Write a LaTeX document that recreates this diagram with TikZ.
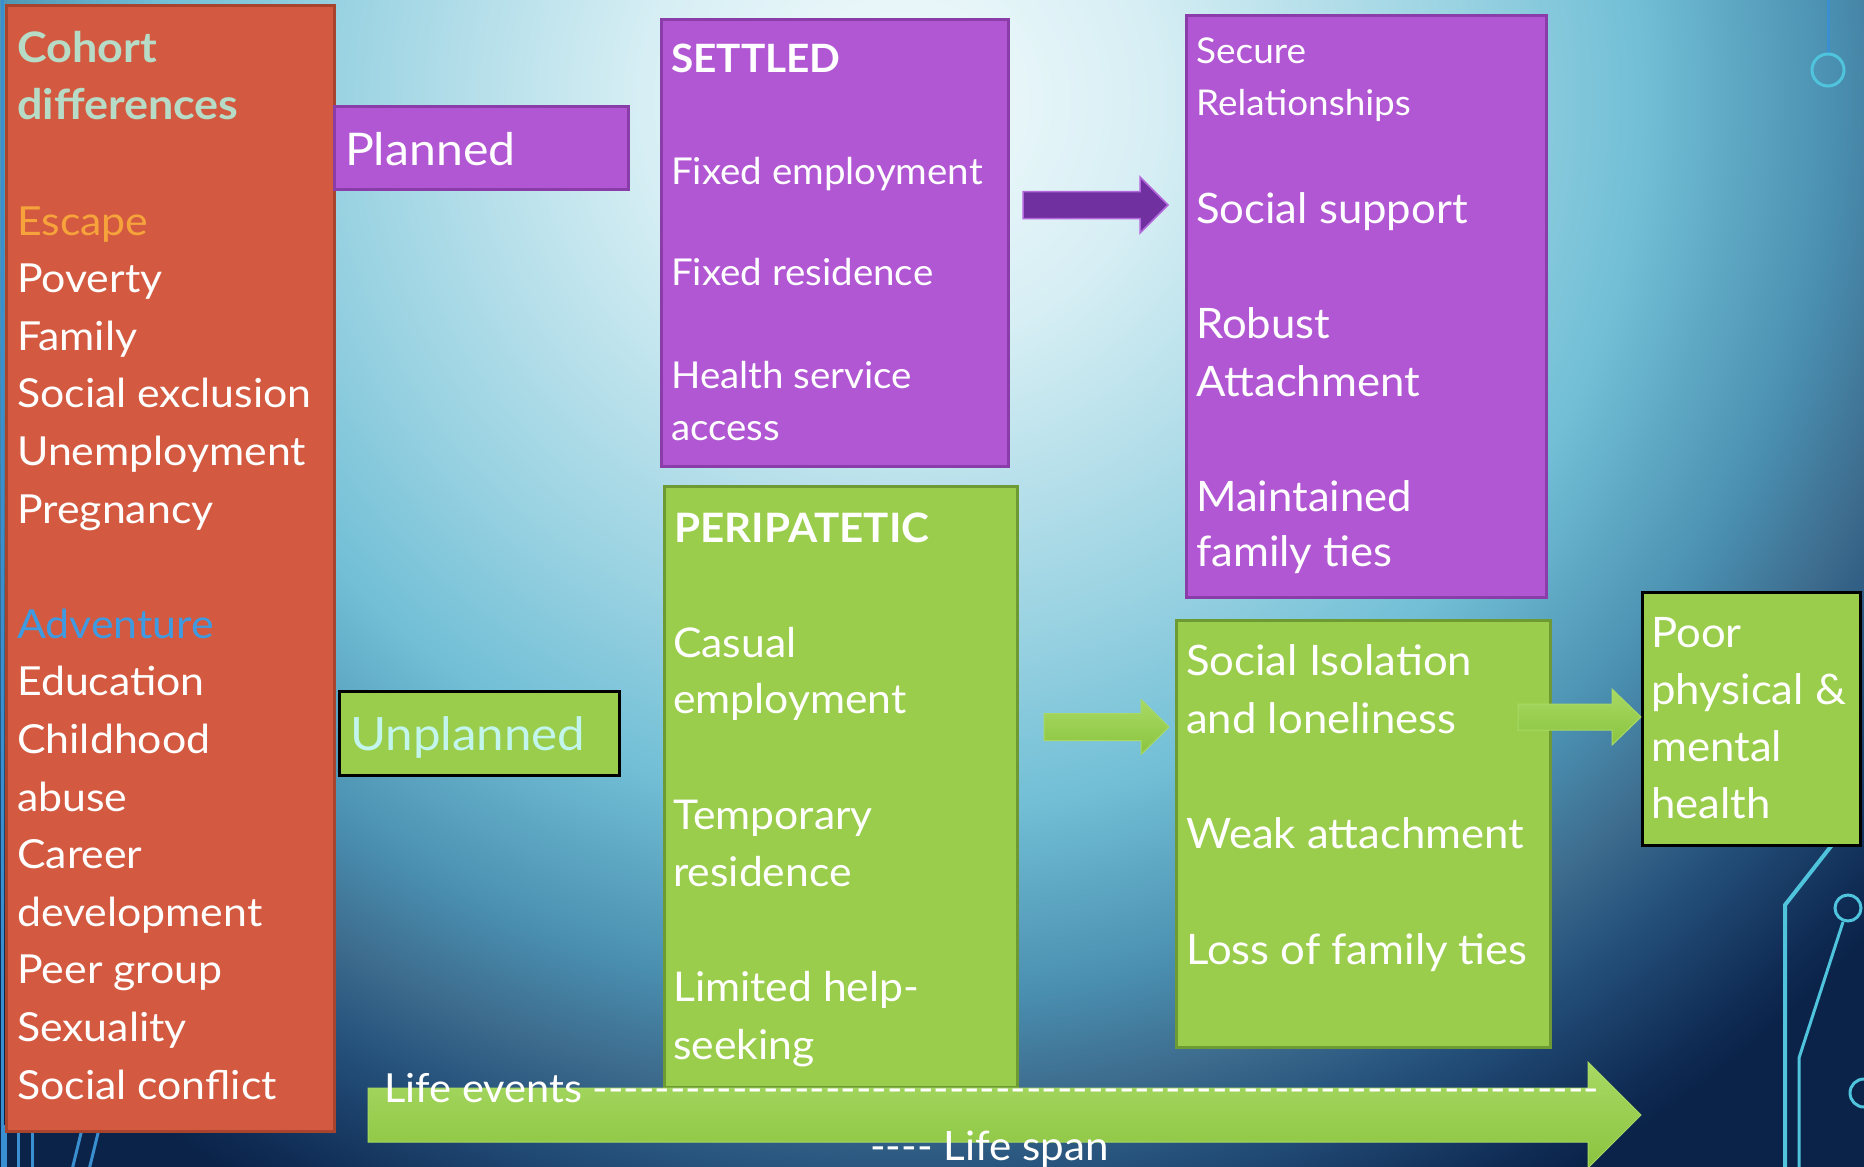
\documentclass[tikz,border=0pt]{standalone}
\usepackage{fontspec}
\setmainfont{Lato}[FakeStretch=1.07]
\newfontfamily\boxfont{Lato}[FakeStretch=1.04]
\usetikzlibrary{calc}

\definecolor{cohortred}{HTML}{D35A40}
\definecolor{cohortedge}{HTML}{A8432E}
\definecolor{settledpurple}{HTML}{B157D3}
\definecolor{settlededge}{HTML}{8A3DA8}
\definecolor{arrowpurple}{HTML}{7030A0}
\definecolor{arrowrim}{HTML}{B466DC}
\definecolor{leafgreen}{HTML}{9BCD4C}
\definecolor{leafedge}{HTML}{6E9A33}
\definecolor{leaflight}{HTML}{A8D964}
\definecolor{leafdark}{HTML}{8BC43F}
\definecolor{mint}{HTML}{B6DCC8}
\definecolor{escorange}{HTML}{F6A33B}
\definecolor{advblue}{HTML}{3E9BE2}
\definecolor{paleaqua}{HTML}{C2F5EC}
\definecolor{circuit}{HTML}{4FC4DC}
\definecolor{circuitblue}{HTML}{3A8FD0}
% background glow, light top centre to dark navy corners
\definecolor{bg0}{HTML}{F4FBFC}
\definecolor{bg1}{HTML}{D6EEF4}
\definecolor{bg2}{HTML}{9BD3E2}
\definecolor{bg3}{HTML}{72BFD6}
\definecolor{bg4}{HTML}{4A8FB0}
\definecolor{bg5}{HTML}{3D6C8E}
\definecolor{bg6}{HTML}{24507A}
\definecolor{bg7}{HTML}{0F2B54}
\definecolor{bg8}{HTML}{0B2349}
% 25bp is the edge of the shaded path
\pgfdeclareradialshading{bgglow}{\pgfpoint{0bp}{0bp}}{color(0bp)=(bg0); color(5bp)=(bg1);
  color(10.75bp)=(bg2); color(14.25bp)=(bg3); color(18bp)=(bg4); color(20bp)=(bg5);
  color(21.75bp)=(bg6); color(24.25bp)=(bg7); color(25bp)=(bg8); color(50bp)=(bg8)}

\newcommand\setsz[2]{\fontsize{#1}{#2}\selectfont}
% block arrow: [style]{from}{tip}{half shaft}{half head}{head length}
\newcommand\fatarrow[6][]{%
  \path[#1] ($(#2)+(0,-#4)$) -- ($(#3)+(-#6,-#4)$) -- ($(#3)+(-#6,-#5)$)
    -- (#3) -- ($(#3)+(-#6,#5)$) -- ($(#3)+(-#6,#4)$) -- ($(#2)+(0,#4)$) -- cycle;}

\tikzset{
  panel/.style={line width=3pt, inner sep=0pt, anchor=north west},
  cohortbox/.style={panel, fill=cohortred, draw=cohortedge},
  settledbox/.style={panel, fill=settledpurple, draw=settlededge},
  driftbox/.style={panel, fill=leafgreen, draw=leafedge},
  outcomebox/.style={panel, fill=leafgreen, draw=black},
  % multi-line texts sit on the baseline of their last line
  itemtext/.style={text=white, inner sep=0pt, anchor=base west, align=left},
  greenarrow/.style={top color=leaflight, bottom color=leafdark, draw=leaflight, line width=1pt},
  wire/.style={circuit, line width=3pt},
}

\begin{document}
\begin{tikzpicture}[x=1pt, y=-1pt]
  \useasboundingbox (0,0) rectangle (1864,1167);
  \begin{scope}
    \clip (0,0) rectangle (1864,1167);
    \shade[shading=bgglow] (-400,-1150) rectangle (2200,1350);
    % circuit traces
    \draw[wire, circuitblue] (1828,0) -- (1828,53);
    \draw[wire] (1828,70) circle[radius=16];
    \draw[wire, line width=4pt] (1832,845) -- (1785,905) -- (1785,1170);
    \draw[wire] (1848,908) circle[radius=13];
    \draw[wire] (1843,922) -- (1799,1058) -- (1799,1170);
    \draw[wire] (1864,1093) circle[radius=14];
    \draw[wire, circuitblue] (2,0) -- (2,1170);
    \foreach \x in {5,18,32} \draw[wire, circuitblue] (\x,1125) -- (\x,1170);
    \foreach \x in {83,100} \draw[wire, circuitblue] (\x,1125) -- (\x-11,1170);
  \end{scope}

  % boxes
  \node[cohortbox, minimum width=328, minimum height=1126] (cohort) at (5,4) {};
  \node[settledbox, minimum width=294, minimum height=83] (planned) at (333,105) {};
  \node[outcomebox, minimum width=280, minimum height=84] (unplanned) at (338,690) {};
  \node[settledbox, minimum width=347, minimum height=447] (settled) at (660,18) {};
  \node[settledbox, minimum width=360, minimum height=582] (secure) at (1185,14) {};
  \node[driftbox, minimum width=353, minimum height=601] (peri) at (663,485) {};
  \node[driftbox, minimum width=374, minimum height=427] (isolation) at (1175,619) {};
  \node[outcomebox, minimum width=218, minimum height=253] (poor) at (1641,591) {};

  % arrows
  \coordinate (pa) at (1023,205);
  \coordinate (pb) at (1168,205);
  \coordinate (ga) at (1044,727);
  \coordinate (gb) at (1169,727);
  \coordinate (ha) at (1518,717);
  \coordinate (hb) at (1641,717);
  \coordinate (la) at (368,1115);
  \coordinate (lb) at (1641,1115);
  \fatarrow[fill=arrowpurple, draw=arrowrim, line width=1.5pt]{pa}{pb}{13.5}{28}{28}
  \fatarrow[greenarrow]{ga}{gb}{13.5}{27.5}{28}
  \fatarrow[greenarrow]{ha}{hb}{13}{28}{29}
  \fatarrow[greenarrow]{la}{lb}{27}{53}{53}

  % texts
  \node[itemtext, font=\setsz{40}{57.6}] (causes) at (17,1099)
    {{\bfseries\color{mint}\setsz{42}{57.6}Cohort}\\
     {\bfseries\color{mint}\setsz{42}{57.6}differences}\\[57.6pt]
     {\color{escorange}Escape}\\ Poverty\\ Family\\ Social exclusion\\ Unemployment\\
     Pregnancy\\[57.6pt]
     {\color{advblue}Adventure}\\ Education\\ Childhood\\ abuse\\ Career\\ development\\
     Peer group\\ Sexuality\\ Social conflict};
  \node[itemtext, font=\setsz{45}{54}] (plannedtxt) at (345,165) {Planned};
  \node[itemtext, text=paleaqua, font=\setsz{46}{54}] (unplannedtxt) at (350,750) {Unplanned};

  \node[itemtext, font=\boxfont\bfseries\setsz{39}{52}] (settledtxt) at (671,72) {SETTLED};
  \node[itemtext, font=\boxfont\setsz{37}{52}] (fixemp) at (671,184) {Fixed employment};
  \node[itemtext, font=\boxfont\setsz{37}{52}] (fixres) at (671,285) {Fixed residence};
  \node[itemtext, font=\boxfont\setsz{37}{52}] (health) at (671,440) {Health service\\access};

  \node[itemtext, font=\boxfont\setsz{35.5}{52}] (relat) at (1196,115) {Secure\\Relationships};
  \node[itemtext, font=\boxfont\setsz{42}{58}] (support) at (1196,223) {Social support};
  \node[itemtext, font=\boxfont\setsz{42}{58}] (robust) at (1196,396) {Robust\\Attachment};
  \node[itemtext, font=\boxfont\setsz{42}{55}] (ties) at (1196,566) {Maintained\\family ties};

  \node[itemtext, font=\boxfont\bfseries\setsz{40.5}{52}] (peritxt) at (674,542) {PERIPATETIC};
  \node[itemtext, font=\boxfont\setsz{41}{56}] (casual) at (673,713) {Casual\\employment};
  \node[itemtext, font=\boxfont\setsz{41}{57}] (temp) at (673,886) {Temporary\\residence};
  \node[itemtext, font=\boxfont\setsz{41}{58}] (limited) at (673,1059) {Limited help-\\seeking};

  \node[itemtext, font=\boxfont\setsz{42}{58}] (lonely) at (1186,733) {Social Isolation\\and loneliness};
  \node[itemtext, font=\boxfont\setsz{42}{58}] (weak) at (1186,848) {Weak attachment};
  \node[itemtext, font=\boxfont\setsz{42}{58}] (loss) at (1186,964) {Loss of family ties};

  \node[itemtext, font=\boxfont\setsz{42}{57}] (poortxt) at (1651,818) {Poor\\physical \&\\mental\\health};

  \node[itemtext, font=\boxfont\setsz{40}{50}] (events) at (384,1102)
    {Life events \hbox to 1005pt{\xleaders\hbox{-}\hfil}};
  \node[itemtext, font=\boxfont\setsz{40.5}{50}] (span) at (870,1160)
    {\mbox{-}\mbox{-}\mbox{-}\mbox{-} Life span};
\end{tikzpicture}
\end{document}
